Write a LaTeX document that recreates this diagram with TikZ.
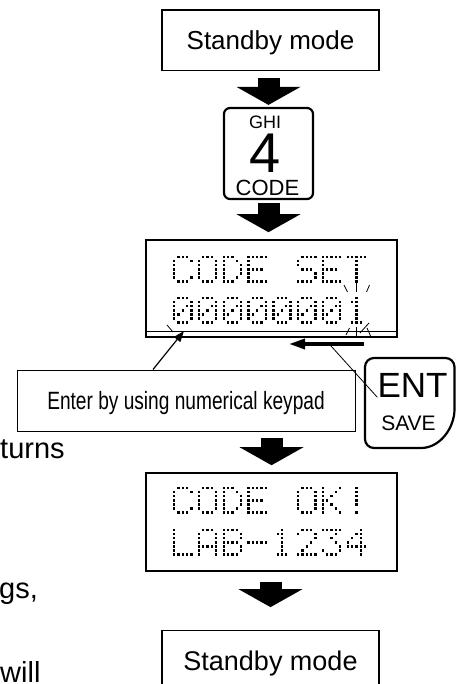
\documentclass[tikz,border=0pt]{standalone}
\usepackage{fontspec}
\setmainfont{Liberation Sans}
\usetikzlibrary{arrows.meta}

% 5x7 dot matrix glyphs, one number per row (left dot = 16)
\newcommand\defglyph[2]{\expandafter\def\csname lcd#1\endcsname{#2}}
\defglyph{sp}{0,0,0,0,0,0,0}
\defglyph{C}{14,17,16,16,16,17,14}
\defglyph{O}{14,17,17,17,17,17,14}
\defglyph{D}{28,18,17,17,17,18,28}
\defglyph{E}{31,16,16,30,16,16,31}
\defglyph{S}{15,16,16,14,1,1,30}
\defglyph{T}{31,4,4,4,4,4,4}
\defglyph{0}{14,17,19,21,25,17,14}
\defglyph{1}{4,12,4,4,4,4,14}
\defglyph{K}{17,18,20,24,20,18,17}
\defglyph{!}{4,4,4,4,4,0,4}
\defglyph{L}{16,16,16,16,16,16,31}
\defglyph{A}{14,17,17,17,31,17,17}
\defglyph{B}{30,17,17,30,17,17,30}
\defglyph{-}{0,0,0,31,0,0,0}
\defglyph{2}{14,17,1,2,4,8,31}
\defglyph{3}{31,2,4,2,1,17,14}
\defglyph{4}{2,6,10,18,31,2,2}

% #1 = left, #2 = top, #3 = glyph names
\newcommand\lcdrow[3]{%
  \foreach \ch [count=\k from 0] in {#3}{%
    \edef\rows{\csname lcd\ch\endcsname}%
    \foreach \v [count=\j from 0] in \rows{%
      \foreach \i in {0,...,4}{%
        \pgfmathtruncatemacro\bit{mod(floor(\v/2^(4-\i)),2)}%
        \ifnum\bit=1
          \fill (#1+\k*24.8+\i*4.3, #2+\j*4.07) rectangle ++(2.3,2.3);
        \fi
      }}}}

\tikzset{
  modebox/.style={draw, line width=1.2pt, minimum width=217pt, minimum height=60.5pt, text depth=0pt},
  lcdbox/.style={draw, line width=1.6pt, minimum width=251pt, minimum height=97pt},
  keyframe/.style={draw, line width=2.2pt, rounded corners=6pt},
  keytext/.style={inner sep=0pt},
  flow/.style={line width=22pt, -{Triangle[length=18pt,width=64pt,line width=0pt]}},
  pointer/.style={line width=1.2pt, -{Triangle[length=11pt,width=8pt]}},
  slide/.style={line width=3.3pt, -{Triangle[length=16pt,width=10pt]}},
  blink/.style={line width=0.8pt},
  bodytext/.style={anchor=base west, inner sep=0pt, font=\fontsize{29}{34}\selectfont},
}

\begin{document}
\begin{tikzpicture}[x=1pt,y=-1pt]
\useasboundingbox (0,0) rectangle (456,684);
\clip (0,0) rectangle (456,684);

% text of the page beside the figure
\node[bodytext] (turns) at (0,458) {turns};
\node[bodytext] (gs) at (-1,598) {gs,};
\node[bodytext] (will) at (0,682) {will};

\node[modebox, font=\fontsize{26}{30}\selectfont] (standby) at (270.5,40.25) {Standby mode};

% key 4
\node[keyframe, minimum width=89pt, minimum height=91pt] (numkey) at (268.5,153.5) {};
\node[keytext, font=\fontsize{18}{20}\selectfont] (keyghi) at (265,122) {GHI};
\node[keytext, font=\fontsize{56}{60}\selectfont] (keyfour) at (264.7,153.3) {4};
\node[keytext, font=\fontsize{22}{24}\selectfont] (keycode) at (267.5,187.5) {CODE};

% first display
\node[lcdbox] (lcd1) at (271.5,288.5) {};
\lcdrow{173}{256}{C,O,D,E,sp,S,E,T}
\lcdrow{173}{297}{0,0,0,0,0,0,0,1}
\draw[line width=1pt] ([yshift=6pt]lcd1.south west) -- ([yshift=6pt]lcd1.south east);
\draw[blink] (344,285) -- (347.5,292);
\draw[blink] (356.5,283) -- (356.5,292);
\draw[blink] (369.5,285) -- (366.5,292);
\draw[blink] (349.5,328) -- (346,335);
\draw[blink] (356.5,327) -- (356.5,336);
\draw[blink] (360,333) -- (369,323);
\draw[blink] (367,328) -- (371,337);
\draw[blink] (167,325) -- (173,332);

\node[draw, line width=1pt, minimum width=338pt, minimum height=61pt, text depth=0pt,
  font=\fontsize{25}{28}\selectfont] (enter) at (186,400.5)
  {\scalebox{0.765}[1]{Enter by using numerical keypad}};

% ENT key
\draw[line width=2.2pt, rounded corners=9pt] (365,420) -- (365,358) -- (454.5,358) -- (454.5,400)
  .. controls (454.5,428) and (440,448) .. (412,448) -- (365,448) -- cycle;
\node[keytext, font=\fontsize{35}{38}\selectfont] (entlabel) at (412.5,385) {ENT};
\node[keytext, font=\fontsize{21}{24}\selectfont] (savelabel) at (408.5,423.5) {SAVE};

\coordinate (firstdigit) at (184,331);
\coordinate (slidefrom) at (364,344);
\coordinate (slideto) at (289,344);
\coordinate (leaderend) at (331,346);
\draw[pointer] ([xshift=-33pt]enter.north) -- (firstdigit);
\draw[slide] (slidefrom) -- (slideto);
\draw[line width=0.8pt] (entlabel.south west) -- (leaderend);

% second display
\node[lcdbox, minimum height=98pt] (lcd2) at (271.5,522) {};
\lcdrow{173}{487}{C,O,D,E,sp,O,K,!}
\lcdrow{173}{529}{L,A,B,-,1,2,3,4}

\node[modebox, font=\fontsize{27}{30}\selectfont] (standby2) at (270.5,661) {Standby mode};

% flow
\draw[flow, shorten <=7pt, shorten >=2pt] (numkey.north |- standby.south) -- (numkey.north);
\draw[flow, shorten <=3pt, shorten >=7pt] (numkey.south) -- (numkey.south |- lcd1.north);
\draw[flow, shorten <=6pt, shorten >=7pt] (lcd2.north |- enter.south) -- (lcd2.north);
\draw[flow, shorten <=10pt, shorten >=23pt] (standby2.north |- lcd2.south) -- (standby2.north);
\end{tikzpicture}
\end{document}
